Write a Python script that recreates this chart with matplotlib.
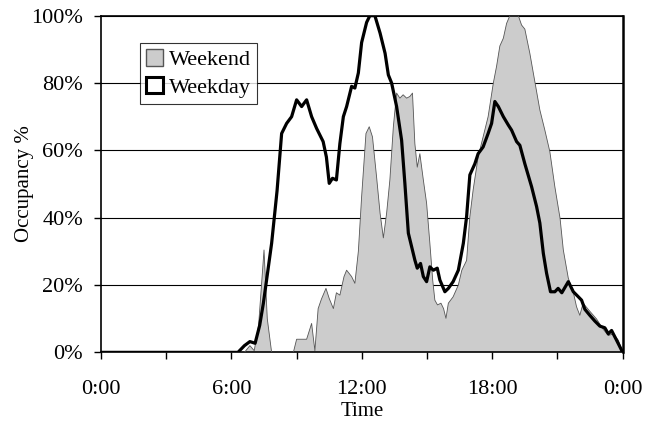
import numpy as np
import matplotlib
matplotlib.use("Agg")
import matplotlib.pyplot as plt
from matplotlib.patches import Patch

# data (hours, occupancy %)
weekday_hours = [0, 6.3, 6.6, 6.85, 7.09, 7.3, 7.47, 7.65, 7.85, 8.1, 8.31, 8.54, 8.77, 9.0, 9.23,
                 9.46, 9.69, 9.92, 10.22, 10.37, 10.5, 10.65, 10.83, 10.99, 11.15, 11.3, 11.53,
                 11.68, 11.84, 11.99, 12.22, 12.37, 12.6, 12.84, 13.07, 13.22, 13.37, 13.6, 13.83,
                 13.98, 14.14, 14.29, 14.44, 14.55, 14.7, 14.83, 14.98, 15.13, 15.29, 15.47, 15.59,
                 15.82, 15.98, 16.2, 16.44, 16.67, 16.82, 16.97, 17.2, 17.35, 17.58, 17.81, 17.97,
                 18.12, 18.28, 18.51, 18.74, 18.89, 19.12, 19.27, 19.5, 19.81, 20.04, 20.19, 20.35,
                 20.5, 20.68, 20.88, 21.03, 21.2, 21.5, 21.73, 21.96, 22.11, 22.26, 22.49, 22.72,
                 22.95, 23.18, 23.34, 23.49, 23.72, 24]
weekday = [0, 0, 2, 3.2, 2.7, 8, 14.6, 23, 32.4, 48, 65, 68, 70, 75, 73,
           75, 70, 66.5, 62.6, 58, 50.2, 51.7, 51.2, 62, 70, 73, 79,
           78.5, 83, 92, 98, 100, 100, 94.8, 88.8, 82.4, 80, 73, 63,
           50.2, 35.4, 31.4, 27.4, 25, 26.4, 22.5, 21, 25.4, 24.4, 25, 21.5,
           18, 19, 21, 24.4, 32.4, 40.3, 52.7, 56, 59, 61, 65, 68,
           74.5, 73, 70, 67.5, 66, 62.6, 61.5, 56, 49.2, 43.3, 38.4, 29.4,
           23.5, 18, 18, 19, 17.7, 21, 18, 16.5, 15.5, 12.8, 11, 9.3,
           7.8, 7.3, 5.5, 6.5, 3.6, 0]

weekend_hours = [0, 6.6, 6.85, 7.05, 7.25, 7.5, 7.65, 7.85, 8.85, 9.0, 9.46, 9.69, 9.84, 9.99,
                 10.14, 10.35, 10.5, 10.69, 10.83, 10.99, 11.18, 11.3, 11.53, 11.68, 11.84, 11.99,
                 12.19, 12.34, 12.49, 12.68, 12.84, 12.99, 13.14, 13.29, 13.45, 13.6, 13.75, 13.9,
                 14.06, 14.21, 14.33, 14.44, 14.55, 14.67, 14.83, 14.98, 15.13, 15.26, 15.36, 15.48,
                 15.64, 15.76, 15.87, 15.98, 16.2, 16.44, 16.6, 16.82, 16.97, 17.12, 17.35, 17.58,
                 17.81, 18.05, 18.2, 18.35, 18.51, 18.66, 18.81, 19.2, 19.35, 19.5, 19.73, 19.96,
                 20.19, 20.42, 20.65, 20.88, 21.12, 21.27, 21.5, 21.73, 21.88, 22.03, 22.18, 22.49,
                 22.8, 23.1, 23.34, 23.57, 23.8, 24]
weekend = [0, 0, 2, 0.5, 8, 30.4, 10, 0, 0, 3.9, 3.9, 8.6, 0.5, 13,
           15.8, 19, 16, 13, 17.7, 17, 22.5, 24.4, 22.5, 20.5, 30, 46.2,
           65, 67, 64, 52, 41.3, 34, 41.3, 51.2, 67, 77, 75.5, 76.5,
           75.5, 76, 77, 62, 55, 59, 51.2, 44.3, 32.4, 21.5, 15.5, 14.1,
           14.6, 13, 10.1, 14.6, 16.5, 20, 24.4, 27.3, 40.3, 48.2, 58, 64,
           70, 80, 85, 91, 93.3, 97.7, 100, 100, 97.2, 96, 88.8, 80.4,
           72, 66, 59.6, 49.2, 39.8, 30.4, 22, 17.8, 13.5, 11, 14.6, 12.2,
           9.9, 6.9, 5, 5.5, 3.6, 0]

tick_labels = ["0:00", "6:00", "12:00", "18:00", "0:00"]

plt.rcParams["font.family"] = ["Liberation Serif", "DejaVu Serif"]
plt.rcParams["font.size"] = 16

fig = plt.figure(figsize=(6.61, 4.23), dpi=100)
ax = fig.add_axes([0.1528, 0.167, 0.7892, 0.796])

# weekend area
ax.fill_between(weekend_hours, weekend, 0, facecolor="#cccccc", edgecolor="none", zorder=2)
ax.plot(weekend_hours, weekend, color="#555555", lw=0.6, zorder=3)
# weekday line
ax.plot(weekday_hours, weekday, color="black", lw=2.3, zorder=4)

ax.set_xlim(0, 24)
ax.set_ylim(0, 100)
ax.set_yticks(np.arange(0, 101, 20))
ax.set_yticklabels([f"{v}%" for v in range(0, 101, 20)])
ax.set_xticks(np.arange(0, 25, 3))
ax.set_xticklabels([tick_labels[i // 2] if i % 2 == 0 else "" for i in range(9)])
ax.tick_params(direction="out", length=5, width=1, colors="black", pad=8)
ax.tick_params(axis="x", pad=15)
ax.yaxis.grid(True, color="black", lw=0.8, zorder=1)
ax.set_axisbelow(True)
for s in ax.spines.values():
    s.set_linewidth(1.2)
ax.spines["right"].set_linewidth(1.8)

ax.set_xlabel("Time", fontsize=15, labelpad=2)
ax.set_ylabel("Occupancy %", fontsize=15)
ax.yaxis.set_label_coords(-0.128, 0.5)

handles = [Patch(facecolor="#cccccc", edgecolor="#555555", lw=1),
           Patch(facecolor="white", edgecolor="black", lw=2.2)]
leg = ax.legend(handles, ["Weekend", "Weekday"], loc="upper left", bbox_to_anchor=(0.074, 0.92),
                frameon=True, fancybox=False, fontsize=16, handlelength=0.75, handleheight=0.75,
                handletextpad=0.25, borderpad=0.3, labelspacing=0.3, borderaxespad=0)
leg.get_frame().set_edgecolor("black")
leg.get_frame().set_linewidth(0.8)

fig.savefig("out.png", dpi=100)
